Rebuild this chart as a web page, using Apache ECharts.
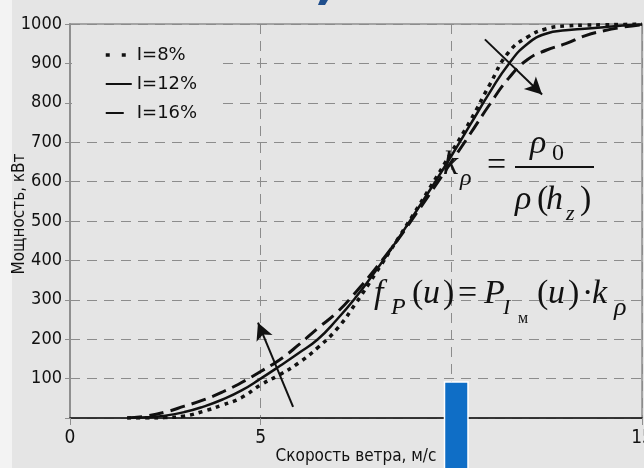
<!DOCTYPE html>
<html>
<head>
<meta charset="utf-8">
<style>
  html, body { margin: 0; padding: 0; background: #e5e5e5; }
  #chart { width: 644px; height: 468px; }
</style>
<script src="https://cdn.jsdelivr.net/npm/echarts@6/dist/echarts.min.js"></script>
</head>
<body>
<div id="chart"></div>
<script>
// ---- data ----
const windSpeed = [1.5, 2, 2.5, 3, 3.5, 4, 4.5, 5, 5.5, 6, 6.5, 7, 7.5, 8, 8.5, 9, 9.5, 10, 10.5, 11, 11.5, 12, 12.5, 13, 13.5, 14, 14.5, 15];
const power8  = [0, 0, 1, 5, 17, 33, 52, 84, 110, 140, 179, 226, 292, 365, 440, 516, 594, 674, 755, 845, 928, 967, 988, 995, 997, 998, 999, 1000];
const power12 = [0, 2, 6, 15, 29, 47, 70, 100, 132, 165, 200, 250, 307, 371, 440, 513, 588, 665, 745, 825, 898, 950, 976, 984, 988, 992, 996, 999];
const power16 = [0, 5, 15, 30, 46, 66, 90, 118, 148, 186, 228, 268, 320, 378, 440, 508, 578, 650, 722, 795, 862, 910, 934, 950, 970, 983, 992, 998];
const seriesNames = ['I=8%', 'I=12%', 'I=16%'];
const xAxisName = 'Скорость ветра, м/с';
const yAxisName = 'Мощность, кВт';
const hiddenXLabels = [10]; // covered by the blue block in the picture
// annotation arrows (data coordinates: [speed, power])
const arrowUp   = [[5.85, 28], [4.93, 242]];
const arrowDown = [[10.88, 961], [12.38, 821]];

const pairs = (vals) => windSpeed.map((u, i) => [u, vals[i]]);

const axisFont = "'Liberation Sans Narrow', 'DejaVu Sans Condensed', 'Liberation Sans', sans-serif";
const serif = "'Liberation Serif', 'DejaVu Serif', serif";

// formula pieces: [text, left x, baseline y, size, italic]
const formulaPieces = [
  ['k', 443, 177, 34, true],
  ['ρ', 460, 187, 24, true],
  ['=', 487, 178, 34, false],
  ['ρ', 530, 156, 34, true],
  ['0', 552, 162, 24, false],
  ['ρ', 515, 212, 34, true],
  ['(', 537, 212, 34, false],
  ['h', 546, 212, 34, true],
  ['z', 566, 222, 22, true],
  [')', 580, 212, 34, false],

  ['f', 374, 306, 34, true],
  ['P', 391, 316, 24, true],
  ['(', 412, 306, 34, false],
  ['u', 423, 306, 34, true],
  [')', 443, 306, 34, false],
  ['=', 458, 306, 34, false],
  ['P', 484, 306, 34, true],
  ['I', 503, 316, 22, true],
  ['м', 518, 324, 16, false],
  ['(', 537, 306, 34, false],
  ['u', 548, 306, 34, true],
  [')', 568, 306, 34, false],
  ['·', 582, 306, 34, false],
  ['k', 592, 306, 34, true],
  ['ρ', 614, 317, 26, true]
];

const graphics = [
  { type: 'rect', z: 0, silent: true, shape: { x: 0, y: 0, width: 12, height: 468 }, style: { fill: '#f3f3f3' } },
  { type: 'rect', z: 1, silent: true, shape: { x: 72, y: 36, width: 151, height: 90 }, style: { fill: '#e5e5e5' } },
  { type: 'line', z: 5, silent: true, shape: { x1: 515, y1: 167, x2: 594, y2: 167 }, style: { stroke: '#111', lineWidth: 2 } },
  { type: 'polygon', z: 5, silent: true, shape: { points: [[320, 0], [328, 0], [325, 5], [318, 5]] }, style: { fill: '#1f4e8c' } },
  { type: 'rect', z: 100, silent: true, shape: { x: 444.5, y: 382, width: 23.5, height: 90 }, style: { fill: '#0f6ec6', stroke: '#ffffff', lineWidth: 1.5 } }
];
formulaPieces.forEach(([t, x, b, s, it]) => {
  graphics.push({
    type: 'text', z: 6, silent: true,
    style: {
      text: t, x: x, y: b - 0.34 * s,
      font: (it ? 'italic ' : '') + s + 'px ' + serif,
      fill: '#111', align: 'left', verticalAlign: 'middle'
    }
  });
});

const chart = echarts.init(document.getElementById('chart'), null, { renderer: 'canvas' });
chart.setOption({
  backgroundColor: '#e5e5e5',
  animation: false,
  grid: {
    left: 70, right: 2, top: 24, bottom: 50, containLabel: false, outerBoundsMode: 'none',
    show: true, borderColor: '#8f8f8f', borderWidth: 1.5, backgroundColor: 'transparent'
  },
  legend: {
    orient: 'vertical', left: 72, top: 45, padding: [0, 0, 0, 32],
    itemWidth: 26, itemHeight: 14, itemGap: 9,
    itemStyle: { opacity: 0, borderWidth: 0 },
    textStyle: { fontFamily: "'DejaVu Sans', 'Liberation Sans', sans-serif", fontSize: 18, color: '#111', lineHeight: 20 },
    data: [
      { name: seriesNames[0], lineStyle: { type: [4, 12], width: 3.5 } },
      { name: seriesNames[1] },
      { name: seriesNames[2], lineStyle: { type: [18, 20] } }
    ]
  },
  xAxis: {
    type: 'value', min: 0, max: 15, interval: 5,
    name: xAxisName, nameLocation: 'middle', nameGap: 30, nameMoveOverlap: false,
    nameTextStyle: { fontFamily: axisFont, fontSize: 17, color: '#111' },
    axisLine: { show: true, lineStyle: { color: '#111', width: 1.5 } },
    axisTick: { show: true, length: 7, lineStyle: { color: '#8f8f8f' } },
    axisLabel: {
      margin: 11, fontFamily: axisFont, fontSize: 19, color: '#111',
      formatter: (v) => (hiddenXLabels.indexOf(v) >= 0 ? '' : String(v))
    },
    splitLine: { show: true, lineStyle: { color: '#8c8c8c', type: [10, 7], width: 1 } }
  },
  yAxis: {
    type: 'value', min: 0, max: 1000, interval: 100,
    name: yAxisName, nameLocation: 'middle', nameRotate: 90, nameGap: 42, nameMoveOverlap: false,
    nameTextStyle: { fontFamily: axisFont, fontSize: 17, color: '#111', padding: [0, 0, 0, 14] },
    axisLine: { show: true, lineStyle: { color: '#8f8f8f', width: 2 } },
    axisTick: { show: true, length: 5, lineStyle: { color: '#8f8f8f' } },
    axisLabel: { margin: 8, fontFamily: axisFont, fontSize: 18, color: '#111', formatter: (v) => (v === 0 ? '' : String(v)) },
    splitLine: { show: true, lineStyle: { color: '#8c8c8c', type: [10, 7], width: 1 } }
  },
  series: [
    {
      name: seriesNames[0], type: 'line', data: pairs(power8), symbol: 'none', smooth: 0.5,
      lineStyle: { color: '#111', width: 3.5, type: [4, 5] }, itemStyle: { color: '#111' }, z: 3
    },
    {
      name: seriesNames[1], type: 'line', data: pairs(power12), symbol: 'none', smooth: 0.5,
      lineStyle: { color: '#111', width: 2.5, type: 'solid' }, itemStyle: { color: '#111' }, z: 4,
      markLine: {
        silent: true, symbol: ['none', 'arrow'], symbolSize: [13, 17],
        label: { show: false },
        lineStyle: { color: '#111', width: 2, type: 'solid' },
        data: [
          [{ coord: arrowUp[0] }, { coord: arrowUp[1] }],
          [{ coord: arrowDown[0] }, { coord: arrowDown[1] }]
        ]
      }
    },
    {
      name: seriesNames[2], type: 'line', data: pairs(power16), symbol: 'none', smooth: 0.5,
      lineStyle: { color: '#111', width: 3, type: [15, 7] }, itemStyle: { color: '#111' }, z: 3
    }
  ],
  graphic: graphics
});
</script>
</body>
</html>
